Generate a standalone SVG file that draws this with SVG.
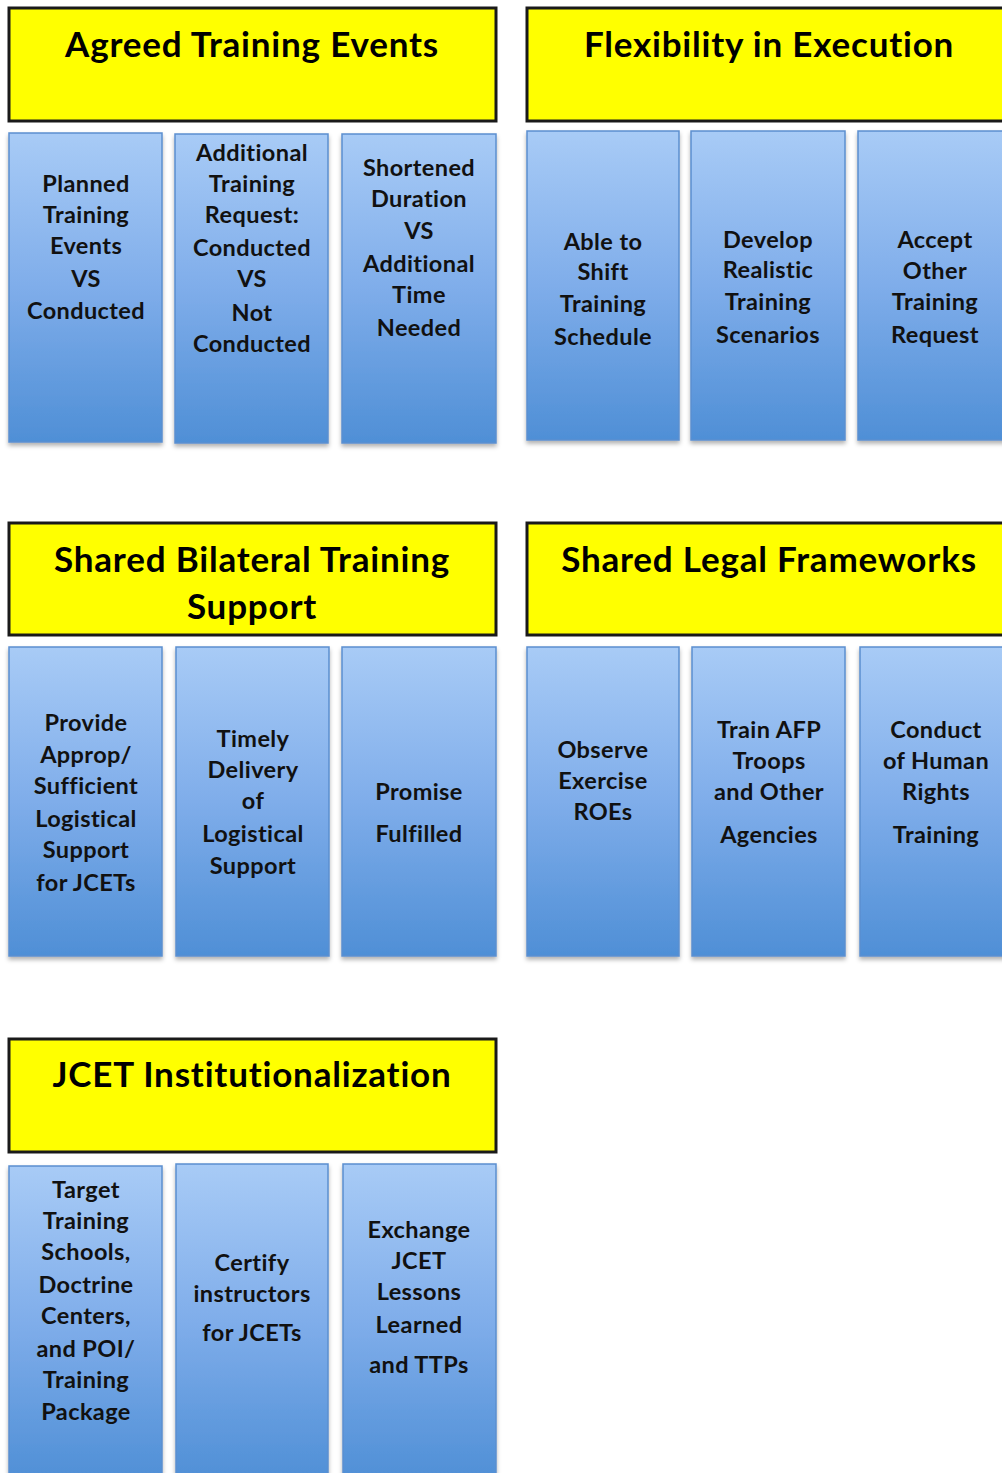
<svg xmlns="http://www.w3.org/2000/svg" width="1002" height="1473" viewBox="0 0 1002 1473">
<defs>
<linearGradient id="blue" x1="0" y1="0" x2="0" y2="1">
<stop offset="0" stop-color="#a8cbf6"/>
<stop offset="0.5" stop-color="#7fadea"/>
<stop offset="1" stop-color="#4f8fd6"/>
</linearGradient>
<filter id="sh" x="-10%" y="-10%" width="120%" height="120%">
<feDropShadow dx="0" dy="3" stdDeviation="2" flood-color="#000" flood-opacity="0.3"/>
</filter>
</defs>
<style>
.hdr{fill:#ffff00;stroke:#1a1a1a;stroke-width:3}
.box{fill:url(#blue);stroke:#5b8fcf;stroke-width:1.5;filter:url(#sh)}
.ht{font-family:Lato,"Open Sans",sans-serif;font-weight:bold;font-size:35px;letter-spacing:0.8px;fill:#000;text-anchor:middle}
.bt{font-family:Lato,"Open Sans",sans-serif;font-weight:bold;font-size:23.5px;letter-spacing:0.4px;fill:#111;text-anchor:middle}
</style>
<rect width="1002" height="1473" fill="#fff"/>

<g id="agreed-training-events">
<rect class="hdr" x="9" y="8" width="487" height="113"/>
<text class="ht" x="252" y="57">Agreed Training Events</text>
</g>
<g id="planned-training-events">
<rect class="box" x="9" y="133" width="153" height="309"/>
<text class="bt"><tspan x="86" y="192">Planned</tspan><tspan x="86" y="223">Training</tspan><tspan x="86" y="254">Events</tspan><tspan x="86" y="287">VS</tspan><tspan x="86" y="319">Conducted</tspan></text>
</g>
<g id="additional-training-request">
<rect class="box" x="175" y="134" width="153" height="309"/>
<text class="bt"><tspan x="252" y="161">Additional</tspan><tspan x="252" y="192">Training</tspan><tspan x="252" y="223">Request:</tspan><tspan x="252" y="256">Conducted</tspan><tspan x="252" y="287">VS</tspan><tspan x="252" y="321">Not</tspan><tspan x="252" y="352">Conducted</tspan></text>
</g>
<g id="shortened-duration">
<rect class="box" x="342" y="134" width="154" height="309"/>
<text class="bt"><tspan x="419" y="176">Shortened</tspan><tspan x="419" y="207">Duration</tspan><tspan x="419" y="239">VS</tspan><tspan x="419" y="272">Additional</tspan><tspan x="419" y="303">Time</tspan><tspan x="419" y="336">Needed</tspan></text>
</g>

<g id="flexibility-in-execution">
<rect class="hdr" x="527" y="8" width="480" height="113"/>
<text class="ht" x="769" y="57">Flexibility in Execution</text>
</g>
<g id="able-to-shift">
<rect class="box" x="527" y="131" width="152" height="309"/>
<text class="bt"><tspan x="603" y="250">Able to</tspan><tspan x="603" y="280">Shift</tspan><tspan x="603" y="312">Training</tspan><tspan x="603" y="345">Schedule</tspan></text>
</g>
<g id="develop-realistic">
<rect class="box" x="691" y="131" width="154" height="309"/>
<text class="bt"><tspan x="768" y="248">Develop</tspan><tspan x="768" y="278">Realistic</tspan><tspan x="768" y="310">Training</tspan><tspan x="768" y="343">Scenarios</tspan></text>
</g>
<g id="accept-other">
<rect class="box" x="858" y="131" width="150" height="309"/>
<text class="bt"><tspan x="935" y="248">Accept</tspan><tspan x="935" y="279">Other</tspan><tspan x="935" y="310">Training</tspan><tspan x="935" y="343">Request</tspan></text>
</g>

<g id="shared-bilateral-training-support">
<rect class="hdr" x="9" y="523" width="487" height="112"/>
<text class="ht"><tspan x="252" y="572">Shared Bilateral Training</tspan><tspan x="252" y="619">Support</tspan></text>
</g>
<g id="provide-logistical-support">
<rect class="box" x="9" y="647" width="153" height="309"/>
<text class="bt"><tspan x="86" y="731">Provide</tspan><tspan x="86" y="763">Approp/</tspan><tspan x="86" y="794">Sufficient</tspan><tspan x="86" y="827">Logistical</tspan><tspan x="86" y="858">Support</tspan><tspan x="86" y="891">for JCETs</tspan></text>
</g>
<g id="timely-delivery">
<rect class="box" x="176" y="647" width="153" height="309"/>
<text class="bt"><tspan x="253" y="747">Timely</tspan><tspan x="253" y="778">Delivery</tspan><tspan x="253" y="809">of</tspan><tspan x="253" y="842">Logistical</tspan><tspan x="253" y="874">Support</tspan></text>
</g>
<g id="promise-fulfilled">
<rect class="box" x="342" y="647" width="154" height="309"/>
<text class="bt"><tspan x="419" y="800">Promise</tspan><tspan x="419" y="842">Fulfilled</tspan></text>
</g>

<g id="shared-legal-frameworks">
<rect class="hdr" x="527" y="523" width="480" height="112"/>
<text class="ht" x="769" y="572">Shared Legal Frameworks</text>
</g>
<g id="observe-exercise-roes">
<rect class="box" x="527" y="647" width="152" height="309"/>
<text class="bt"><tspan x="603" y="758">Observe</tspan><tspan x="603" y="789">Exercise</tspan><tspan x="603" y="820">ROEs</tspan></text>
</g>
<g id="train-afp-troops">
<rect class="box" x="692" y="647" width="153" height="309"/>
<text class="bt"><tspan x="769" y="738">Train AFP</tspan><tspan x="769" y="769">Troops</tspan><tspan x="769" y="800">and Other</tspan><tspan x="769" y="843">Agencies</tspan></text>
</g>
<g id="conduct-human-rights">
<rect class="box" x="860" y="647" width="148" height="309"/>
<text class="bt"><tspan x="936" y="738">Conduct</tspan><tspan x="936" y="769">of Human</tspan><tspan x="936" y="800">Rights</tspan><tspan x="936" y="843">Training</tspan></text>
</g>

<g id="jcet-institutionalization">
<rect class="hdr" x="9" y="1039" width="487" height="113"/>
<text class="ht" x="252" y="1087">JCET Institutionalization</text>
</g>
<g id="target-training-schools">
<rect class="box" x="9" y="1166" width="153" height="315"/>
<text class="bt"><tspan x="86" y="1198">Target</tspan><tspan x="86" y="1229">Training</tspan><tspan x="86" y="1260">Schools,</tspan><tspan x="86" y="1293">Doctrine</tspan><tspan x="86" y="1324">Centers,</tspan><tspan x="86" y="1357">and POI/</tspan><tspan x="86" y="1388">Training</tspan><tspan x="86" y="1420">Package</tspan></text>
</g>
<g id="certify-instructors">
<rect class="box" x="176" y="1164" width="152" height="317"/>
<text class="bt"><tspan x="252" y="1271">Certify</tspan><tspan x="252" y="1302">instructors</tspan><tspan x="252" y="1341">for JCETs</tspan></text>
</g>
<g id="exchange-lessons">
<rect class="box" x="343" y="1164" width="153" height="317"/>
<text class="bt"><tspan x="419" y="1238">Exchange</tspan><tspan x="419" y="1269">JCET</tspan><tspan x="419" y="1300">Lessons</tspan><tspan x="419" y="1333">Learned</tspan><tspan x="419" y="1373">and TTPs</tspan></text>
</g>
<g id="connectors"></g>
</svg>
